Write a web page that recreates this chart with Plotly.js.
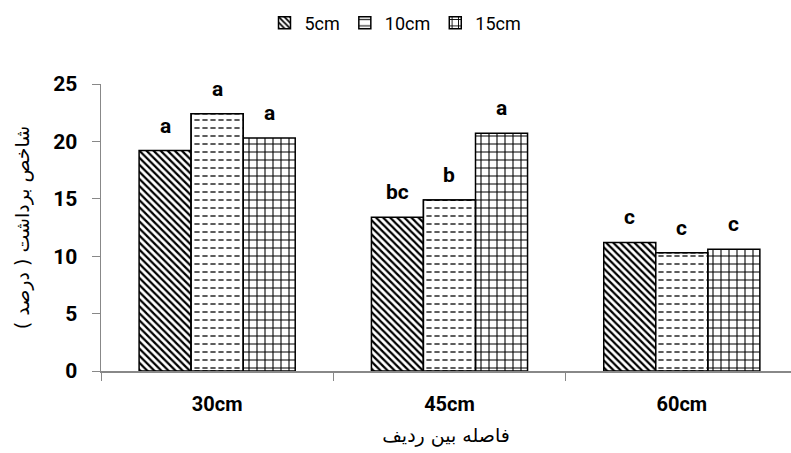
<!DOCTYPE html>
<html>
<head>
<meta charset="utf-8">
<script src="https://cdn.plot.ly/plotly-3.0.1.min.js"></script>
<style>html,body{margin:0;padding:0;background:#fff;}#chart{width:791px;height:453px;}</style>
</head>
<body>
<div id="chart"></div>
<script>
const categories = ["30cm", "45cm", "60cm"];
const seriesNames = ["5cm", "10cm", "15cm"];
const values5 = [19.2, 13.4, 11.2];
const values10 = [22.4, 14.9, 10.3];
const values15 = [20.3, 20.7, 10.6];
const letters5 = ["a", "bc", "c"];
const letters10 = ["a", "b", "c"];
const letters15 = ["a", "a", "c"];

const allValues = [values5, values10, values15];
const allLetters = [letters5, letters10, letters15];
const patterns = [
  {shape: "\\", fgcolor: "#000", bgcolor: "#fff", size: 5, solidity: 0.45},
  {shape: "-", fgcolor: "#333", bgcolor: "#fff", size: 8, solidity: 0.2},
  {shape: "+", fgcolor: "#000", bgcolor: "#fff", size: 8, solidity: 0.25}
];

const FONT = "Roboto, Liberation Sans, Arial, sans-serif";
const bargap = 0.328;
const barW = (1 - bargap) / 3;
const xrange = [-0.5, 2.47];

const traces = seriesNames.map((n, j) => ({
  type: "bar",
  name: n,
  x: categories,
  y: allValues[j],
  marker: {color: "#fff", pattern: patterns[j], line: {color: "#000", width: 1.5}},
  hoverinfo: "x+y+name"
}));

// overlay layer that breaks the 10cm horizontal lines into dashes
seriesNames.forEach((n, j) => {
  traces.push({
    type: "bar",
    name: n + " overlay",
    x: categories,
    y: allValues[j],
    xaxis: "x2",
    showlegend: false,
    hoverinfo: "skip",
    marker: j === 1
      ? {color: "rgba(0,0,0,0)", pattern: {shape: "|", fgcolor: "#fff", bgcolor: "rgba(0,0,0,0)", size: 8, solidity: 0.35}, line: {color: "#000", width: 1.5}}
      : {color: "rgba(0,0,0,0)", line: {width: 0}}
  });
});

const annotations = [];
allLetters.forEach((arr, j) => {
  arr.forEach((t, i) => {
    annotations.push({
      x: i + (j - 1) * barW,
      y: allValues[j][i],
      xref: "x", yref: "y",
      text: t,
      showarrow: false,
      yanchor: "bottom",
      yshift: 11,
      font: {family: FONT, size: 21, color: "#000", weight: "bold"}
    });
  });
});

const layout = {
  width: 791, height: 453,
  margin: {l: 101, r: 0, t: 84, b: 82},
  paper_bgcolor: "#fff", plot_bgcolor: "#fff",
  font: {family: FONT, color: "#000"},
  barmode: "group",
  bargap: bargap,
  bargroupgap: 0,
  showlegend: true,
  legend: {
    orientation: "h", x: 0.5, xanchor: "center", xref: "container",
    y: 0.99, yref: "container", yanchor: "top",
    font: {size: 18}, traceorder: "normal", itemwidth: 30
  },
  xaxis: {
    type: "category", range: xrange,
    showline: true, linecolor: "#888", linewidth: 1.5,
    ticks: "outside", tickson: "boundaries", ticklen: 8, tickcolor: "#888",
    tickfont: {size: 20, weight: "bold"},
    ticklabelstandoff: 14,
    title: {text: "فاصله بین ردیف", font: {family: "DejaVu Sans, Noto Sans, sans-serif", size: 19}, standoff: 14},
    showgrid: false, zeroline: false
  },
  xaxis2: {
    type: "category", range: xrange, overlaying: "x", visible: false,
    showgrid: false, zeroline: false
  },
  yaxis: {
    range: [0, 25], tickvals: [0, 5, 10, 15, 20, 25],
    showline: true, linecolor: "#888", linewidth: 1.5,
    ticks: "outside", ticklen: 8, tickcolor: "#888",
    tickfont: {size: 21, weight: "bold"},
    ticklabelstandoff: 10,
    title: {text: "شاخص برداشت ( درصد )", font: {family: "DejaVu Sans, Noto Sans, sans-serif", size: 19}, standoff: 18},
    showgrid: false, zeroline: false
  },
  annotations: annotations
};

Plotly.newPlot("chart", traces, layout, {displayModeBar: false, staticPlot: true});
</script>
</body>
</html>
